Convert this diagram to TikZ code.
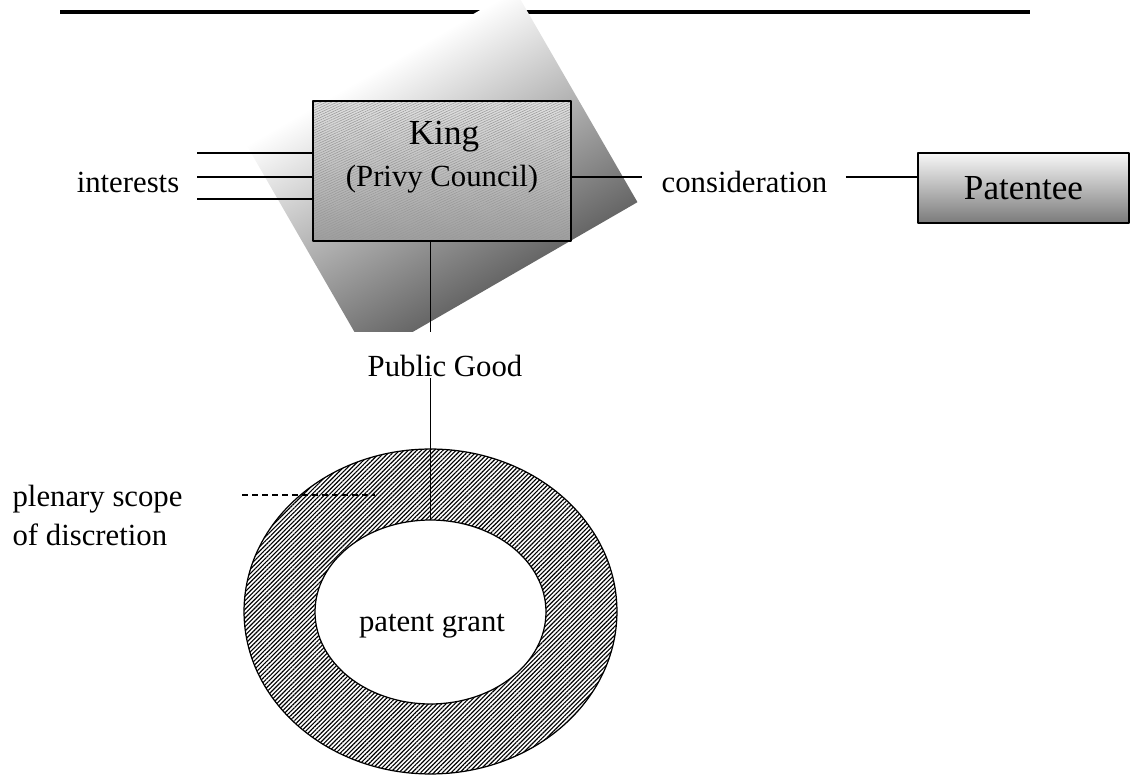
\documentclass[tikz,border=0pt]{standalone}
\usepackage{fontspec}
\setmainfont{Liberation Serif}
\usetikzlibrary{shapes.geometric,patterns.meta}

\begin{document}
\begin{tikzpicture}[
    x=0.02cm, y=-0.02cm,
    line join=round,
    line width=0.7pt
]

% ---------------------------------------------------------
% 1. PAGE FRAME (1133 x 776 units, y runs downwards)
% ---------------------------------------------------------
\useasboundingbox (0,0) rectangle (1133,776);

\tikzset{lbl/.style={font=\fontsize{17.5}{21}\selectfont, inner sep=0pt, anchor=base}}
\tikzset{biglbl/.style={font=\fontsize{20}{24}\selectfont, inner sep=0pt}}
\tikzset{kingbox/.style={minimum width=5.16cm, minimum height=2.8cm,
    top color=black!12, bottom color=black!38,
    postaction={pattern={Lines[angle=25,distance=1.3pt,line width=0.3pt]}, pattern color=black!40},
    postaction={draw}}}
\tikzset{patentbox/.style={draw, minimum width=4.22cm, minimum height=1.4cm,
    top color=black!3, bottom color=black!52}}
\tikzset{ringfill/.style={ellipse, draw, pattern={Lines[angle=45,distance=1.75pt,line width=0.65pt]}}}
\tikzset{leader/.style={dash pattern=on 3.4pt off 2.3pt}}

% Top rule
\coordinate (R1) at (60,12);
\coordinate (R2) at (1030,12);
\draw[line width=1.8pt] (R1) -- (R2);

% ---------------------------------------------------------
% 2. TILTED SHADOW BEHIND THE KING (cut off at y=332)
% ---------------------------------------------------------
\coordinate (S) at (246.5,145); % left corner of the shadow
\begin{scope}
  \clip (0,0) rectangle (1133,332);
  \begin{scope}[transform canvas={rotate around={30:(S)}}]
    \shade[top color=white, middle color=black!18, bottom color=black!60]
      (246.5,145) rectangle (556.5,390);
  \end{scope}
\end{scope}

% ---------------------------------------------------------
% 3. NODES
% ---------------------------------------------------------
\node[kingbox] (king) at (442,171) {};
\node[biglbl, anchor=base] (kingname) at (444,145) {King};
\node[lbl] (council) at (442,187) {(Privy Council)};

\node[patentbox, biglbl, draw] (patentee) at (1023.5,188) {Patentee};

\node[lbl] (interests) at (128,193) {interests};
\node[lbl] (consider) at (744.5,193) {consideration};
\node[lbl] (pubgood) at (445,377) {Public Good};

\node[ringfill, minimum width=7.46cm, minimum height=6.5cm] (ring) at (430.5,611.5) {};
\node[ellipse, draw, fill=white, minimum width=4.62cm, minimum height=3.68cm] (grant) at (430.5,612) {};
\node[lbl] (grantlbl) at (432,632) {patent grant};

\node[lbl, anchor=base west] (plenary) at (12,507) {plenary scope};
\node[lbl, anchor=base west] (discr) at (12,546) {of discretion};

% ---------------------------------------------------------
% 4. CONNECTORS
% ---------------------------------------------------------
\coordinate (in1) at (197,153);
\coordinate (in2) at (197,177);
\coordinate (in3) at (197,199);
\coordinate (cline) at (744.5,177); % height of the consideration line

\foreach \c in {in1,in2,in3}
  \draw (\c) -- (\c -| king.west);

\draw (king.east |- cline) -- ([xshift=-19*0.02cm]consider.west |- cline);
\draw ([xshift=18*0.02cm]consider.east |- cline) -- (patentee.west |- cline);

\draw[shorten >=13pt] (king.south -| grant.north) -- (pubgood.north -| grant.north);
\draw (pubgood.south -| grant.north) -- (grant.north);

% Dashed pointer to the ring
\coordinate (d1) at (242,495);
\coordinate (d2) at (375,495);
\draw[leader] (d1) -- (d2);

\end{tikzpicture}
\end{document}
